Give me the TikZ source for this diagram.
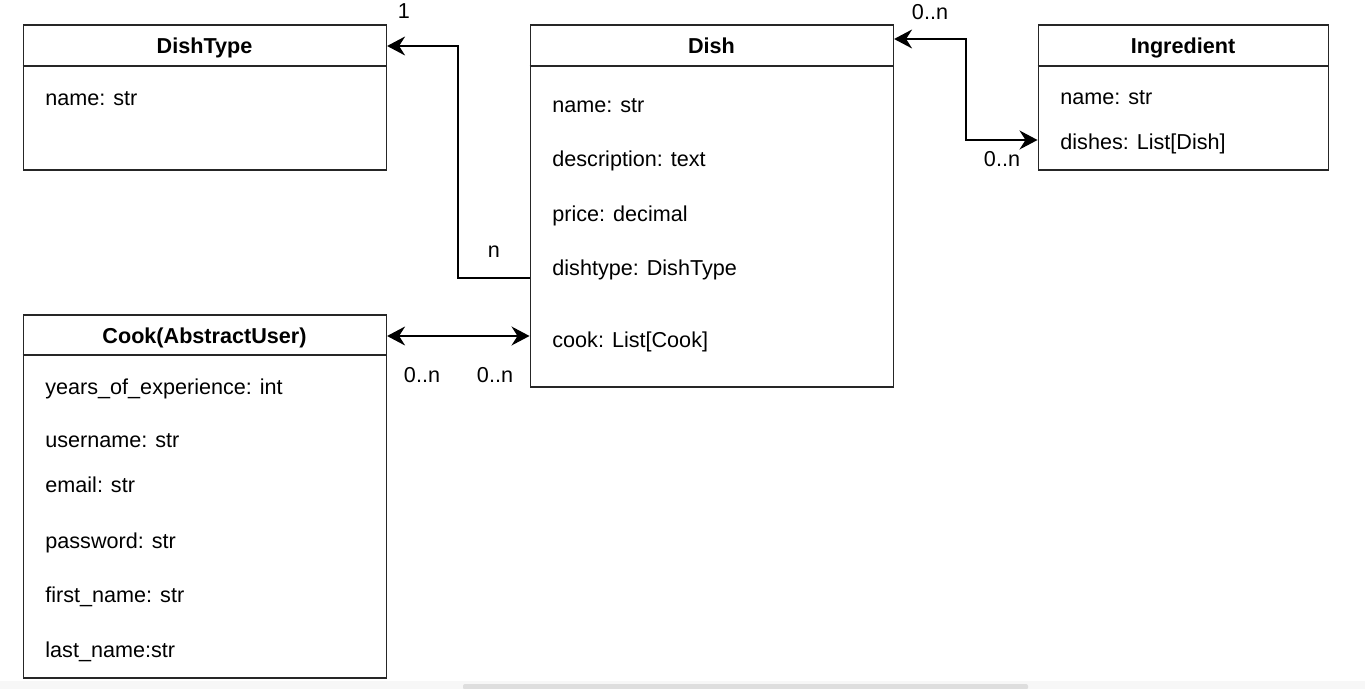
\documentclass[tikz,border=0pt]{standalone}
\usepackage{fontspec}
\setmainfont{Liberation Sans}
\usetikzlibrary{arrows.meta,calc}
\begin{document}
\begin{tikzpicture}[x=0.5pt,y=-0.5pt,
  every node/.style={font=\fontsize{10.8}{13}\selectfont},
  umlbox/.style={draw=black!85,line width=0.8pt,inner sep=0pt,anchor=north west,rectangle},
  title/.style={anchor=base,font=\fontsize{10.8}{13}\selectfont\bfseries,inner sep=0pt},
  attr/.style={anchor=base west,inner sep=0pt},
  lbl/.style={anchor=base,inner sep=0pt},
  conn/.style={line width=0.75pt,black},
  tip/.style={-{Stealth[length=9pt,width=9.5pt,inset=3pt]}},
  tips/.style={{Stealth[length=9pt,width=9.5pt,inset=3pt]}-{Stealth[length=9pt,width=9.5pt,inset=3pt]}}
]
\useasboundingbox (0,0) rectangle (1365,689);
\fill[white] (0,0) rectangle (1365,689);
% scrollbar
\fill[black!3] (0,681) rectangle (1365,689);
\fill[black!13,rounded corners=1pt] (463,684) rectangle (1028,689.5);

% boxes
\node[umlbox,minimum width=181.5pt,minimum height=72.5pt] (dishtype) at (22.5,24) {};
\node[umlbox,minimum width=181.5pt,minimum height=181pt] (dish) at (529.5,24) {};
\node[umlbox,minimum width=145pt,minimum height=72.5pt] (ingr) at (1037.5,24) {};
\node[umlbox,minimum width=181.5pt,minimum height=181.5pt] (cook) at (22.5,314) {};

% header separators
\draw[draw=black!85,line width=0.8pt] ($(dishtype.north west)+(0,42)$) -- ($(dishtype.north east)+(0,42)$);
\draw[draw=black!85,line width=0.8pt] ($(dish.north west)+(0,42)$) -- ($(dish.north east)+(0,42)$);
\draw[draw=black!85,line width=0.8pt] ($(ingr.north west)+(0,42)$) -- ($(ingr.north east)+(0,42)$);
\draw[draw=black!85,line width=0.8pt] ($(cook.north west)+(0,41)$) -- ($(cook.north east)+(0,41)$);

% titles
\node[title] (tdt) at (204.5,54) {DishType};
\node[title] (tdish) at (711.5,54) {Dish};
\node[title] (ting) at (1183,54) {Ingredient};
\node[title] (tcook) at (204.5,344) {Cook(AbstractUser)};

% attributes
\node[attr] (a1) at (45,106) {name: str};

\node[attr] (d1) at (552,113) {name: str};
\node[attr] (d2) at (552,167) {description: text};
\node[attr] (d3) at (552,222) {price: decimal};
\node[attr] (d4) at (552,276) {dishtype: DishType};
\node[attr] (d5) at (552,348) {cook: List[Cook]};

\node[attr] (i1) at (1060,105) {name: str};
\node[attr] (i2) at (1060,150) {dishes: List[Dish]};

\node[attr] (c1) at (45,395) {years\_of\_experience: int};
\node[attr] (c2) at (45,448) {username: str};
\node[attr] (c3) at (45,493) {email: str};
\node[attr] (c4) at (45,548) {password: str};
\node[attr] (c5) at (45,602) {first\_name: str};
\node[attr] (c6) at (45,657) {last\_name:str};

% connectors
\coordinate (p1) at ($(dish.north west)+(0,254)$);
\coordinate (p2) at ($(dishtype.north east)+(0,22)$);
\draw[conn,tip] (p1) -- (458,278) -- (458,46) -- (p2);

\coordinate (q1) at ($(cook.north east)+(0,22)$);
\coordinate (q2) at ($(dish.north west)+(0,312)$);
\draw[conn,tips] (q1) -- (q2);

\coordinate (r1) at ($(dish.north east)+(0,15)$);
\coordinate (r2) at ($(ingr.north west)+(0,116)$);
\draw[conn,tips] (r1) -- (966,39) -- (966,140) -- (r2);

% multiplicities
\node[lbl] (m1) at (404,19) {1};
\node[lbl] (m2) at (494,258) {n};
\node[lbl] (m3) at (422,383) {0..n};
\node[lbl] (m4) at (495,383) {0..n};
\node[lbl] (m5) at (930,20) {0..n};
\node[lbl] (m6) at (1002,167) {0..n};
\end{tikzpicture}
\end{document}
